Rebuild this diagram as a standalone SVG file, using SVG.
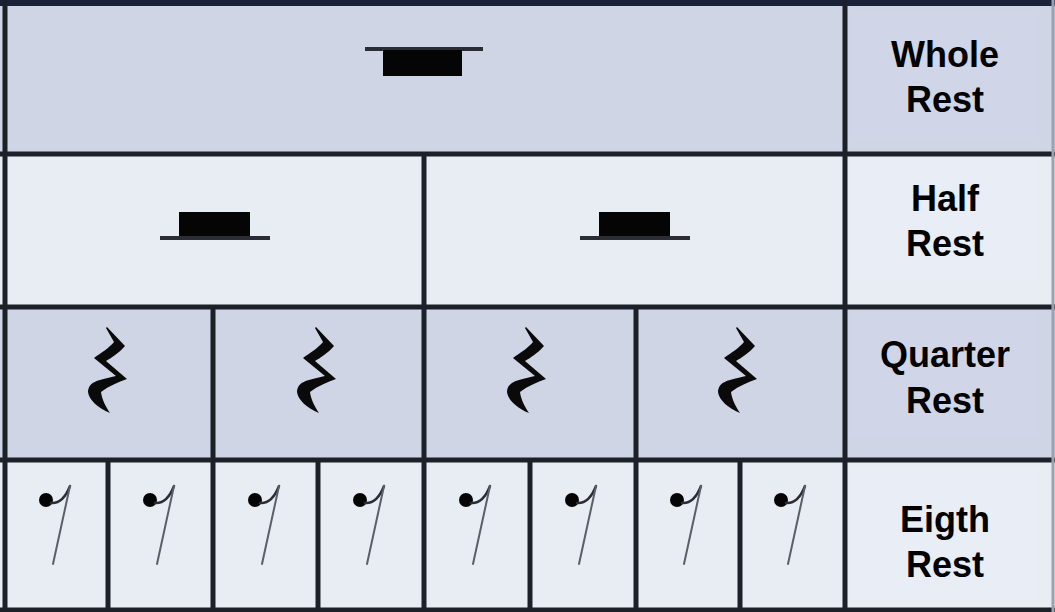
<svg xmlns="http://www.w3.org/2000/svg" xmlns:xlink="http://www.w3.org/1999/xlink" width="1055" height="612" viewBox="0 0 1055 612">
  <style>
    .dark { fill: #cfd5e5; }
    .light { fill: #e8ecf3; }
    .darkbox { fill: #d0d6e7; }
    .lightbox { fill: #e9edf5; }
    .grid { stroke: #1c2029; stroke-width: 5; fill: none; }
    .label { font-family: "Liberation Sans", Arial, sans-serif; font-weight: bold; font-size: 36px; fill: #000; text-anchor: middle; }
    .ledger { stroke: #2a2d33; stroke-width: 4; }
    .block { fill: #050505; }
    .q { fill: #0a0a0a; }
    .dot { fill: #050505; }
    .stem { stroke: #5a5f68; stroke-width: 2; fill: none; stroke-linecap: round; }
    .flag { stroke: #2a2d33; stroke-width: 2.5; fill: none; stroke-linecap: round; }
  </style>
  <defs>
    <path id="quarter" class="q" d="M 1,-43 L 19,-24 C 13,-17 5,-12 0,-9 L 21,9 C 12,12 3,16 -5,22 C -4,30 0,37 4,43 C -8,38 -17,30 -18,22 C -18,16 -14,12 -6,10 C 0,8 6,7 10,6 L -12,-12 C -5,-17 3,-22 8,-28 L 0,-42 Z"/>
    <g id="eighth">
      <circle class="dot" cx="-11" cy="0" r="7"/>
      <path class="flag" d="M -6,3 Q 6,4 13,-14"/>
      <path class="stem" d="M 13,-14 L -4,64"/>
    </g>
  </defs>

  <!-- backgrounds -->
  <rect x="0" y="0" width="1055" height="612" fill="#e6e9f1"/>
  <rect class="dark" x="0" y="6" width="1055" height="148"/>
  <rect class="light" x="0" y="154" width="1055" height="153"/>
  <rect class="dark" x="0" y="307" width="1055" height="153"/>
  <rect class="light" x="0" y="460" width="1055" height="152"/>
  <rect x="0" y="0" width="1055" height="6" fill="#18233a"/>

  <!-- label boxes -->
  <rect class="darkbox" x="850" y="14" width="188" height="124"/>
  <rect class="lightbox" x="850" y="158" width="188" height="122"/>
  <rect class="darkbox" x="850" y="313" width="188" height="124"/>
  <rect class="lightbox" x="850" y="468" width="188" height="132"/>

  <g id="connectors">
    <line class="grid" x1="0" y1="154" x2="1055" y2="154"/>
    <line class="grid" x1="0" y1="307" x2="1055" y2="307"/>
    <line class="grid" x1="0" y1="460" x2="1055" y2="460"/>
    <line class="grid" x1="0" y1="610" x2="1055" y2="610"/>
    <line class="grid" x1="5" y1="0" x2="5" y2="612"/>
    <line class="grid" x1="845" y1="0" x2="845" y2="612"/>
    <line x1="1053" y1="0" x2="1053" y2="612" stroke="#9ba1ae" stroke-width="3"/>
    <line class="grid" x1="424" y1="154" x2="424" y2="612"/>
    <line class="grid" x1="213" y1="307" x2="213" y2="612"/>
    <line class="grid" x1="636" y1="307" x2="636" y2="612"/>
    <line class="grid" x1="108" y1="460" x2="108" y2="612"/>
    <line class="grid" x1="318" y1="460" x2="318" y2="612"/>
    <line class="grid" x1="530" y1="460" x2="530" y2="612"/>
    <line class="grid" x1="740" y1="460" x2="740" y2="612"/>
  </g>

  <g id="whole-rest">
    <line class="ledger" x1="365" y1="49" x2="483" y2="49"/>
    <rect class="block" x="383" y="50" width="79" height="26"/>
  </g>

  <g id="half-rest-1">
    <rect class="block" x="179" y="212" width="71" height="25"/>
    <line class="ledger" x1="160" y1="238" x2="270" y2="238"/>
  </g>
  <g id="half-rest-2">
    <rect class="block" x="599" y="212" width="71" height="25"/>
    <line class="ledger" x1="580" y1="238" x2="690" y2="238"/>
  </g>

  <g id="quarter-rests">
    <use xlink:href="#quarter" href="#quarter" transform="translate(106,370)"/>
    <use xlink:href="#quarter" href="#quarter" transform="translate(315,370)"/>
    <use xlink:href="#quarter" href="#quarter" transform="translate(525,370)"/>
    <use xlink:href="#quarter" href="#quarter" transform="translate(736,370)"/>
  </g>

  <g id="eighth-rests">
    <use xlink:href="#eighth" href="#eighth" transform="translate(57,500)"/>
    <use xlink:href="#eighth" href="#eighth" transform="translate(161,500)"/>
    <use xlink:href="#eighth" href="#eighth" transform="translate(266,500)"/>
    <use xlink:href="#eighth" href="#eighth" transform="translate(371,500)"/>
    <use xlink:href="#eighth" href="#eighth" transform="translate(477,500)"/>
    <use xlink:href="#eighth" href="#eighth" transform="translate(583,500)"/>
    <use xlink:href="#eighth" href="#eighth" transform="translate(688,500)"/>
    <use xlink:href="#eighth" href="#eighth" transform="translate(792,500)"/>
  </g>

  <g id="label-whole">
    <text class="label" x="945" y="67">Whole</text>
    <text class="label" x="945" y="112">Rest</text>
  </g>
  <g id="label-half">
    <text class="label" x="945" y="211">Half</text>
    <text class="label" x="945" y="256">Rest</text>
  </g>
  <g id="label-quarter">
    <text class="label" x="945" y="367">Quarter</text>
    <text class="label" x="945" y="413">Rest</text>
  </g>
  <g id="label-eighth">
    <text class="label" x="945" y="532">Eigth</text>
    <text class="label" x="945" y="577">Rest</text>
  </g>
</svg>
